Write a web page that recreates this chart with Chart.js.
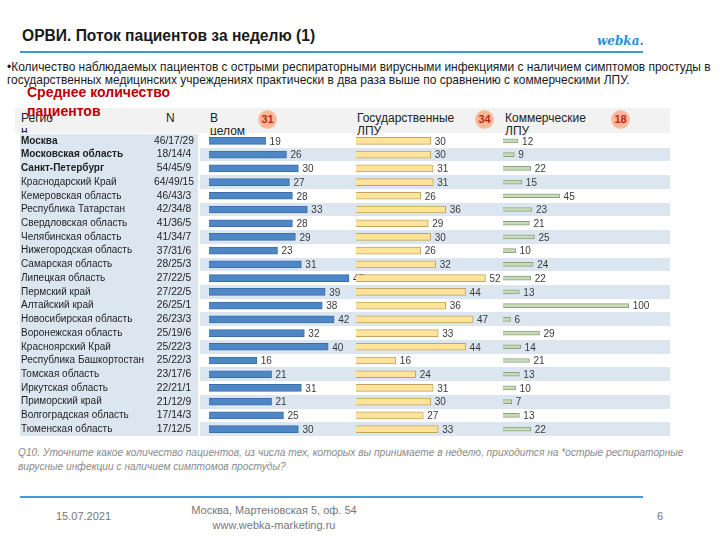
<!DOCTYPE html>
<html>
<head>
<meta charset="utf-8">
<script src="https://cdn.jsdelivr.net/npm/chart.js@4/dist/chart.umd.min.js"></script>
<style>
  html, body { margin:0; padding:0; background:#fff; }
  body { width:720px; height:540px; position:relative; overflow:hidden; font-family:"Liberation Sans", Arial, sans-serif; color:#222; }
  .abs { position:absolute; white-space:nowrap; }
  .title { left:22px; top:27px; font-size:15.6px; font-weight:bold; color:#1a1a1a; }
  .logo { left:597px; top:34px; font-family:"DejaVu Serif", serif; font-style:italic; font-weight:bold; font-size:12px; color:#2a8fd4; }
  .rule { position:absolute; left:20px; width:623px; height:2px; background:#3d9be0; }
  .sub { left:7px; font-size:11.95px; color:#1a1a1a; }
  .avg { left:27px; top:83px; font-size:14px; font-weight:bold; color:#c00000; line-height:19px; }
  .hdrband { position:absolute; left:15px; top:108px; width:655px; height:25px; background:#f2f2f2; }
  .hdr { font-size:12px; color:#222; line-height:13px; }
  .circ { position:absolute; width:19px; height:19px; border-radius:50%; background:radial-gradient(circle, #f7b896 55%, #fbd9c6 100%); color:#c0281b; font-weight:bold; font-size:11px; text-align:center; line-height:19px; }
  .q { left:18px; font-size:10.2px; font-style:italic; color:#8a8a8a; }
  .foot { font-size:11px; color:#777; }
  #wrap { position:absolute; left:15px; top:134px; width:660px; height:302px; }
</style>
</head>
<body>
<div class="abs title">ОРВИ. Поток пациентов за неделю (1)</div>
<div class="abs logo">webka.</div>
<div class="rule" style="top:51px"></div>
<div class="abs sub" style="top:60px">•Количество наблюдаемых пациентов с острыми респираторными вирусными инфекциями с наличием симптомов простуды в</div>
<div class="abs sub" style="top:73px">государственных медицинских учреждениях практически в два раза выше по сравнению с коммерческими ЛПУ.</div>

<div class="hdrband"></div>
<div class="abs hdr" style="left:21px;top:112px;height:21px;overflow:hidden">Регио<br>н</div>
<div class="abs hdr" style="left:166px;top:112px">N</div>
<div class="abs hdr" style="left:210px;top:112px;height:23px;overflow:hidden">В<br>целом</div>
<div class="abs hdr" style="left:357px;top:112px;height:23px;overflow:hidden">Государственные<br>ЛПУ</div>
<div class="abs hdr" style="left:505px;top:112px;height:23px;overflow:hidden">Коммерческие<br>ЛПУ</div>
<div class="circ" style="left:258px;top:110px">31</div>
<div class="circ" style="left:475px;top:110px">34</div>
<div class="circ" style="left:611px;top:110px">18</div>
<div class="abs avg">Среднее количество<br>пациентов</div>

<div id="wrap"><canvas id="c" width="660" height="302"></canvas></div>

<div class="abs q" style="top:447px">Q10. Уточните какое количество пациентов, из числа тех, которых вы принимаете в неделю, приходится на *острые респираторные</div>
<div class="abs q" style="top:461px">вирусные инфекции с наличием симптомов простуды?</div>
<div class="rule" style="top:496px"></div>
<div class="abs foot" style="left:56px;top:510px">15.07.2021</div>
<div class="abs foot" style="left:186px;top:503px;width:176px;text-align:center;line-height:15px">Москва, Мартеновская 5, оф. 54<br>www.webka-marketing.ru</div>
<div class="abs foot" style="left:657px;top:510px">6</div>

<script>
const regions = ["Москва","Московская область","Санкт-Петербург","Краснодарский Край","Кемеровская область","Республика Татарстан","Свердловская область","Челябинская область","Нижегородская область","Самарская область","Липецкая область","Пермский край","Алтайский край","Новосибирская область","Воронежская область","Красноярский Край","Республика Башкортостан","Томская область","Иркутская область","Приморский край","Волгоградская область","Тюменская область"];
const nCounts = ["46/17/29","18/14/4","54/45/9","64/49/15","46/43/3","42/34/8","41/36/5","41/34/7","37/31/6","28/25/3","27/22/5","27/22/5","26/25/1","26/23/3","25/19/6","25/22/3","25/22/3","23/17/6","22/21/1","21/12/9","17/14/3","17/12/5"];
const totalVals = [19,26,30,27,28,33,28,29,23,31,47,39,38,42,32,40,16,21,31,21,25,30];
const govVals = [30,30,31,31,26,36,29,30,26,32,52,44,36,47,33,44,16,24,31,30,27,33];
const comVals = [12,9,22,15,45,23,21,25,10,24,22,13,100,6,29,14,21,13,10,7,13,22];

const FONT = "'Liberation Sans', Arial, sans-serif";

const bandPlugin = {
  id: 'bands',
  beforeDraw(chart) {
    const ctx = chart.ctx, y = chart.scales.y, ca = chart.chartArea;
    const h = (ca.bottom - ca.top) / regions.length;
    ctx.save();
    ctx.fillStyle = '#dce6f1';
    regions.forEach((r, i) => {
      const yc = y.getPixelForValue(i);
      const top = Math.round(yc - h / 2), bot = Math.round(yc + h / 2);
      ctx.fillRect(5, top, 178, bot - top);
      if (i % 2 === 1) ctx.fillRect(185, top, 470, bot - top);
    });
    ctx.restore();
  },
  afterDraw(chart) {
    const ctx = chart.ctx, y = chart.scales.y;
    ctx.save();
    ctx.font = "10.3px " + FONT;
    ctx.fillStyle = '#1e1e1e';
    ctx.textAlign = 'center';
    ctx.textBaseline = 'middle';
    nCounts.forEach((n, i) => ctx.fillText(n, 159, y.getPixelForValue(i)));
    ctx.restore();
  }
};

const labelPlugin = {
  id: 'vlabels',
  afterDatasetDraw(chart, args) {
    const ctx = chart.ctx;
    const ds = chart.data.datasets[args.index];
    ctx.save();
    ctx.font = "10px " + FONT;
    ctx.fillStyle = '#3a3a3a';
    ctx.textAlign = 'left';
    ctx.textBaseline = 'middle';
    args.meta.data.forEach((el, i) => {
      ctx.fillText(String(ds.data[i]), el.x + 4, el.y + 1);
    });
    ctx.restore();
  }
};

new Chart(document.getElementById('c'), {
  type: 'bar',
  data: {
    labels: regions,
    datasets: [
      { label: 'В целом', data: totalVals, xAxisID: 'x1', order: 3,
        backgroundColor: '#4f86c6', borderColor: '#3b6ea8', borderWidth: 1, barThickness: 7 },
      { label: 'Государственные ЛПУ', data: govVals, xAxisID: 'x2', order: 2,
        backgroundColor: '#fee39b', borderColor: '#c4a461', borderWidth: 1, barThickness: 7 },
      { label: 'Коммерческие ЛПУ', data: comVals, xAxisID: 'x3', order: 1,
        backgroundColor: '#c8dbb9', borderColor: '#8aa37c', borderWidth: 1, barThickness: 4 }
    ]
  },
  options: {
    indexAxis: 'y',
    responsive: false,
    devicePixelRatio: 1,
    animation: false,
    layout: { padding: { left: 6, right: 0, top: 0, bottom: 0 } },
    datasets: { bar: { grouped: false } },
    plugins: { legend: { display: false }, tooltip: { enabled: false } },
    scales: {
      x1: { type: 'linear', display: false, min: -5.03, max: 156.4 },
      x2: { type: 'linear', display: false, min: -65.06, max: 128.1 },
      x3: { type: 'linear', display: false, min: -245.8, max: 136.8 },
      y: {
        type: 'category', position: 'left', offset: true,
        grid: { display: false, drawTicks: false }, border: { display: false },
        ticks: {
          autoSkip: false, crossAlign: 'far', padding: 0, color: '#1e1e1e',
          font: (c) => ({ family: FONT, size: 10, weight: c.index < 3 ? 'bold' : 'normal' })
        },
        afterFit: (s) => { s.width = 173; s.paddingTop = 0; s.paddingBottom = 0; }
      }
    }
  },
  plugins: [bandPlugin, labelPlugin]
});
</script>
</body>
</html>
